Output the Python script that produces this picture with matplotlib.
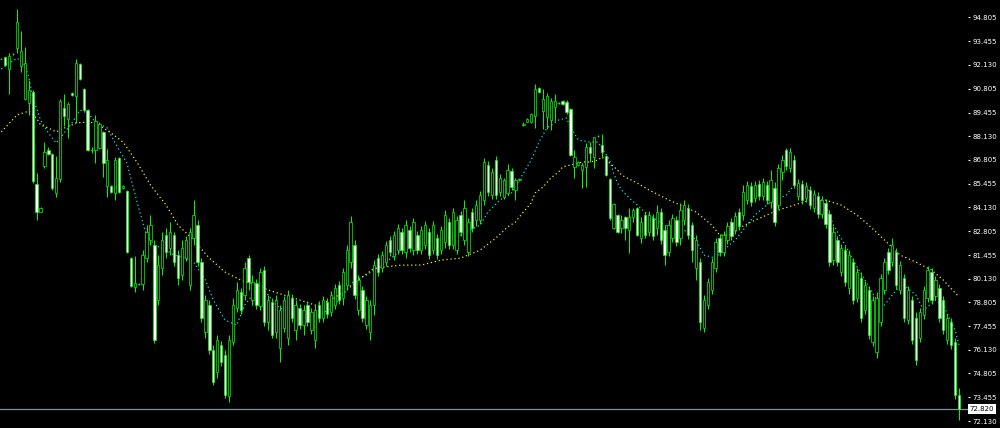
import matplotlib
matplotlib.use('Agg')
import matplotlib.pyplot as plt
from matplotlib.patches import Rectangle
from matplotlib.transforms import blended_transform_factory
import numpy as np

opens = [
    92.47, 92.58, 91.91, 92.72, 93.08, 92.07, 90.22, 89.99, 90.61, 85.44,
    83.90, 86.46, 87.35, 87.13, 84.94, 85.73, 89.71, 89.10, 90.56, 90.39,
    92.19, 90.78, 89.60, 87.35, 87.35, 87.47, 88.37, 85.33, 85.33, 84.94,
    86.91, 85.22, 85.05, 81.29, 79.66, 79.83, 79.83, 81.28, 82.30, 82.02,
    78.93, 80.72, 82.58, 81.85, 82.58, 81.45, 80.33, 81.28, 79.77, 82.41,
    83.14, 81.06, 77.13, 78.64, 76.12, 74.88, 76.40, 75.84, 73.53, 76.57,
    78.48, 79.38, 79.21, 81.28, 78.93, 79.88, 78.59, 80.61, 77.69, 78.81,
    77.13, 76.23, 77.35, 76.79, 79.04, 77.24, 78.48, 77.52, 78.64, 77.24,
    76.68, 78.64, 77.91, 78.81, 78.25, 78.64, 79.77, 79.04, 79.77, 81.06,
    82.02, 78.36, 79.49, 77.52, 77.13, 78.64, 81.28, 80.72, 81.06, 82.30,
    81.40, 81.73, 82.75, 81.62, 82.86, 81.73, 82.58, 81.73, 82.02, 82.75,
    81.73, 82.41, 81.73, 82.19, 83.31, 82.02, 81.73, 83.70, 82.30, 81.62,
    83.87, 83.42, 83.42, 84.54, 86.51, 84.82, 86.79, 85.00, 84.71, 84.94,
    86.17, 85.11, 85.67, 88.76, 88.93, 88.93, 89.26, 90.84, 89.54, 89.21,
    89.04, 89.77, 89.99, 90.11, 90.05, 89.66, 86.40, 86.51, 86.23, 86.40,
    87.52, 86.96, 88.14, 87.63, 87.02, 85.72, 82.97, 83.70, 82.97, 83.59,
    82.86, 83.59, 84.09, 82.41, 83.70, 82.75, 83.54, 82.97, 83.87, 82.86,
    81.62, 82.41, 83.42, 82.41, 83.42, 84.09, 83.14, 80.72, 81.06, 77.35,
    78.64, 79.49, 80.72, 82.41, 81.62, 82.30, 83.31, 82.86, 83.87, 83.70,
    84.54, 85.33, 84.66, 85.44, 84.77, 85.39, 84.43, 85.22, 84.26, 86.12,
    87.35, 86.34, 86.79, 84.77, 85.44, 84.66, 85.11, 84.09, 84.77, 83.76,
    84.37, 83.76, 81.17, 82.30, 80.50, 81.73, 79.60, 81.06, 79.04, 80.16,
    78.36, 79.49, 76.57, 76.01, 77.69, 79.49, 81.62, 81.06, 81.62, 79.49,
    80.16, 77.80, 78.93, 77.91, 76.79, 78.08, 79.04, 80.50, 79.15, 79.60,
    78.93, 76.68, 77.69, 76.57, 73.59]

highs = [
    92.50, 92.60, 92.80, 92.80, 95.28, 94.04, 93.14, 91.29, 90.70, 86.06,
    84.15, 87.80, 87.50, 87.20, 87.02, 90.22, 90.50, 90.05, 90.60, 92.47,
    92.25, 90.85, 89.65, 87.50, 89.32, 88.90, 88.40, 87.41, 85.40, 86.96,
    86.95, 85.40, 85.10, 81.35, 81.40, 79.90, 81.73, 83.14, 83.70, 82.30,
    81.45, 82.75, 82.97, 83.31, 82.75, 81.73, 82.30, 82.52, 82.97, 84.54,
    83.42, 81.28, 79.21, 78.93, 76.40, 76.96, 76.62, 76.12, 76.96, 79.04,
    79.94, 79.60, 81.06, 81.45, 80.33, 80.11, 80.72, 80.84, 79.21, 79.04,
    79.21, 78.64, 79.15, 79.49, 79.26, 78.93, 78.70, 78.64, 78.87, 78.48,
    78.64, 78.87, 79.15, 79.04, 79.43, 79.83, 80.00, 80.72, 82.02, 83.65,
    82.30, 80.33, 79.71, 79.15, 78.93, 81.17, 81.51, 81.68, 82.24, 82.52,
    82.80, 83.20, 82.97, 83.42, 83.08, 83.53, 82.80, 83.08, 83.37, 82.97,
    83.37, 82.63, 83.08, 83.98, 83.54, 84.09, 83.65, 83.93, 84.54, 83.54,
    84.09, 84.54, 85.05, 86.90, 86.73, 86.34, 87.02, 86.00, 85.78, 86.57,
    86.34, 85.78, 85.75, 88.90, 89.15, 89.45, 91.07, 90.90, 90.78, 90.56,
    90.27, 90.50, 90.05, 90.16, 90.16, 89.71, 87.35, 86.75, 86.62, 87.75,
    87.80, 88.08, 88.20, 88.25, 87.10, 85.80, 84.40, 83.78, 83.70, 83.65,
    84.09, 84.09, 84.15, 83.59, 83.87, 83.93, 83.76, 84.26, 84.09, 83.14,
    83.42, 83.76, 83.65, 84.37, 84.54, 84.32, 83.31, 82.58, 81.28, 79.21,
    80.16, 81.28, 82.41, 82.63, 82.80, 83.31, 83.54, 83.87, 84.09, 85.39,
    85.61, 85.55, 85.61, 85.67, 85.78, 85.61, 86.23, 85.55, 86.57, 87.07,
    87.47, 87.47, 87.07, 85.72, 85.67, 85.55, 85.33, 85.11, 85.00, 84.77,
    84.60, 83.98, 83.08, 82.52, 82.07, 81.96, 81.73, 81.28, 80.72, 80.50,
    80.00, 79.71, 79.15, 79.38, 80.39, 81.28, 81.85, 82.41, 81.85, 81.11,
    80.39, 79.71, 79.15, 78.25, 78.48, 79.71, 80.84, 80.72, 80.27, 79.83,
    79.15, 78.14, 77.91, 76.79, 73.98]

lows = [
    92.45, 92.10, 90.50, 92.70, 92.80, 91.74, 90.16, 89.32, 85.50, 83.42,
    83.85, 86.34, 87.05, 85.10, 84.71, 85.56, 88.70, 88.03, 90.40, 88.87,
    91.30, 89.55, 87.30, 87.20, 86.62, 87.40, 85.84, 84.71, 84.95, 84.55,
    84.95, 85.15, 81.55, 79.65, 79.38, 79.78, 79.49, 81.06, 82.02, 76.51,
    78.64, 80.33, 81.28, 81.45, 80.84, 79.77, 80.05, 81.11, 79.49, 82.02,
    80.84, 77.69, 76.79, 75.90, 74.15, 74.54, 75.22, 73.42, 73.20, 76.40,
    78.25, 78.14, 78.93, 79.49, 78.64, 78.42, 78.36, 77.47, 77.24, 76.79,
    76.79, 75.44, 77.13, 76.40, 77.69, 76.68, 77.30, 76.96, 77.47, 77.02,
    76.23, 77.69, 77.69, 77.91, 78.03, 78.42, 78.70, 78.64, 79.49, 80.72,
    78.98, 78.08, 77.69, 77.30, 76.68, 78.08, 80.27, 80.50, 80.84, 81.40,
    81.17, 81.51, 81.51, 81.28, 81.62, 81.45, 81.51, 81.51, 81.79, 81.23,
    81.51, 81.23, 81.51, 81.85, 81.79, 81.79, 81.51, 82.52, 82.02, 81.40,
    82.75, 83.08, 83.20, 84.26, 84.77, 84.60, 84.60, 84.77, 84.60, 84.82,
    85.11, 84.54, 85.62, 88.70, 88.90, 88.88, 88.59, 90.55, 88.53, 88.53,
    88.48, 88.98, 89.93, 89.88, 89.38, 87.00, 85.78, 86.45, 85.22, 85.27,
    86.68, 86.34, 88.08, 86.96, 85.88, 83.45, 82.90, 82.68, 82.69, 82.30,
    81.56, 83.31, 82.50, 82.13, 82.41, 82.52, 82.30, 82.58, 82.07, 80.89,
    81.40, 82.19, 81.96, 82.02, 83.14, 82.35, 81.06, 80.05, 77.24, 77.13,
    78.42, 79.26, 80.50, 81.40, 81.40, 82.07, 82.30, 82.63, 82.86, 83.42,
    84.32, 84.21, 84.43, 84.54, 84.54, 84.32, 84.09, 83.08, 84.04, 85.67,
    86.23, 86.12, 85.22, 84.54, 84.32, 84.43, 84.04, 83.87, 83.53, 83.53,
    82.97, 80.84, 80.89, 80.84, 80.27, 79.71, 79.26, 78.70, 78.81, 77.69,
    78.14, 76.74, 76.34, 75.67, 77.47, 79.26, 80.39, 80.84, 79.54, 79.26,
    77.69, 77.58, 76.46, 75.28, 76.57, 77.86, 78.81, 78.70, 78.93, 77.69,
    77.02, 76.46, 76.18, 73.36, 72.19]

closes = [
    92.47, 92.13, 92.64, 92.75, 94.55, 92.92, 92.24, 90.73, 85.61, 83.87,
    84.10, 87.24, 87.13, 85.22, 85.78, 90.11, 89.26, 89.94, 90.45, 92.24,
    91.34, 89.60, 87.35, 87.35, 88.98, 88.82, 86.62, 86.79, 85.00, 86.79,
    85.00, 85.33, 81.62, 79.71, 79.88, 79.83, 81.45, 82.75, 83.14, 76.68,
    80.89, 82.30, 81.62, 82.75, 81.06, 80.16, 81.85, 82.30, 82.75, 83.70,
    81.06, 77.91, 78.93, 76.12, 74.32, 76.68, 75.44, 73.59, 76.68, 78.64,
    79.49, 78.36, 80.72, 79.94, 79.94, 78.64, 80.50, 77.69, 78.93, 76.96,
    78.93, 78.36, 78.93, 79.21, 77.91, 78.64, 77.52, 78.36, 77.69, 78.25,
    78.36, 77.91, 78.93, 78.14, 79.21, 79.60, 78.93, 80.50, 81.73, 83.31,
    79.21, 80.05, 77.91, 78.93, 78.64, 80.89, 80.50, 81.45, 82.02, 81.62,
    82.58, 82.97, 81.73, 83.14, 81.85, 83.31, 81.73, 82.86, 83.14, 81.45,
    83.14, 81.45, 82.86, 83.70, 82.02, 83.87, 83.42, 82.75, 84.09, 83.31,
    82.97, 84.26, 84.82, 86.68, 85.00, 86.12, 84.82, 85.78, 85.67, 86.23,
    85.27, 85.67, 85.70, 88.82, 89.10, 89.38, 90.78, 90.61, 90.22, 90.39,
    90.11, 90.11, 89.99, 89.94, 89.49, 87.07, 86.96, 86.68, 86.51, 87.52,
    87.18, 88.08, 88.14, 87.24, 85.95, 83.53, 84.32, 82.75, 83.42, 82.97,
    83.59, 83.98, 82.58, 83.31, 82.58, 83.70, 82.52, 83.87, 82.30, 81.45,
    83.14, 83.54, 82.19, 83.98, 84.26, 82.58, 81.73, 82.30, 77.69, 78.93,
    79.94, 81.06, 82.19, 81.62, 82.58, 83.08, 82.52, 83.65, 83.08, 85.00,
    85.39, 84.43, 85.39, 84.77, 85.55, 84.54, 85.67, 83.31, 86.34, 86.79,
    86.46, 87.24, 85.39, 85.50, 84.54, 85.33, 84.26, 84.88, 83.76, 84.54,
    83.20, 81.06, 82.75, 81.06, 81.85, 79.94, 81.45, 78.93, 80.50, 77.91,
    79.77, 76.96, 78.93, 79.04, 80.16, 81.06, 80.61, 82.02, 79.77, 80.89,
    77.91, 79.49, 76.68, 75.56, 78.25, 79.49, 80.61, 78.93, 80.05, 77.91,
    77.24, 77.91, 76.40, 73.59, 72.82]

# moving averages (bar index, price)
fast_ma_bars = [0, 4, 6, 7, 8, 10, 12, 14, 16, 18, 20, 22, 24, 27, 29, 32, 35, 37, 39, 42,
                44, 47, 49, 52, 54, 57, 60, 62, 65, 67, 70, 72, 75, 77, 80, 82, 85, 87, 90, 93,
                95, 98, 102, 107, 112, 117, 122, 124, 127, 130, 132, 135, 137, 139, 142, 144, 145, 147, 150, 152,
                153, 155, 156, 157, 158, 160, 162, 164, 167, 169, 172, 174, 177, 179, 182, 184, 187, 190, 192, 195,
                197, 200, 202, 205, 207, 210, 212, 215, 217, 220, 223, 225, 228, 230, 233, 235, 238, 240, 243, 244]
fast_ma_values = [91.91, 92.52, 92.13, 91.45, 90.33, 89.04, 88.31, 87.75, 88.31, 88.87,
                  89.60, 89.43, 88.93, 88.59, 87.75, 86.62, 84.09, 82.58, 82.02, 81.73,
                  81.45, 81.28, 81.06, 80.05, 78.93, 77.80, 77.52, 78.64, 79.49, 79.49,
                  78.64, 78.36, 78.08, 77.91, 77.91, 78.19, 78.64, 79.21, 80.05, 80.33,
                  80.61, 81.06, 81.73, 82.13, 82.30, 82.58, 83.14, 83.87, 84.54, 84.94,
                  85.67, 86.79, 87.80, 88.59, 89.04, 89.15, 88.65, 87.92, 87.80, 87.80,
                  87.47, 86.79, 86.06, 85.50, 85.11, 84.66, 84.26, 83.87, 83.42, 83.14,
                  82.97, 82.86, 82.30, 81.45, 81.28, 81.73, 82.30, 83.14, 83.70, 84.26,
                  84.54, 84.82, 85.39, 85.22, 84.82, 84.26, 83.14, 82.02, 81.17, 80.05,
                  78.93, 78.64, 79.49, 79.77, 79.21, 78.36, 78.93, 78.64, 77.24, 76.40]
slow_ma_bars = [0, 4, 7, 9, 10, 12, 14, 16, 17, 19, 22, 24, 26, 28, 31, 33, 35, 38, 42, 45,
                49, 53, 57, 61, 65, 68, 72, 76, 80, 84, 88, 91, 95, 102, 107, 112, 117, 122, 126, 129,
                131, 133, 135, 136, 138, 140, 142, 143, 145, 147, 148, 150, 152, 153, 155, 157, 158, 160, 162, 165,
                169, 173, 177, 181, 183, 186, 188, 191, 195, 198, 202, 206, 210, 214, 218, 221, 225, 229, 233, 237,
                240, 244]
slow_ma_values = [88.37, 89.32, 89.54, 89.15, 88.76, 88.59, 88.37, 88.59, 88.65, 88.87,
                  88.93, 88.87, 88.59, 88.31, 87.80, 87.18, 86.51, 85.39, 84.26, 83.14,
                  82.30, 81.28, 80.50, 80.05, 79.77, 79.49, 79.21, 78.93, 78.64, 78.93,
                  79.49, 80.05, 80.72, 80.89, 80.89, 81.17, 81.28, 81.73, 82.41, 83.03,
                  83.31, 83.87, 84.38, 84.94, 85.27, 85.78, 86.12, 86.40, 86.51, 86.62,
                  86.68, 86.68, 86.79, 86.96, 86.62, 86.23, 85.95, 85.72, 85.50, 85.11,
                  84.66, 84.26, 83.87, 83.14, 82.58, 82.58, 82.97, 83.31, 83.70, 83.98,
                  84.26, 84.54, 84.54, 84.26, 83.70, 83.14, 82.30, 81.45, 81.06, 80.61,
                  80.05, 79.10]

tick_values = [94.805, 93.455, 92.130, 90.805, 89.455, 88.130, 86.805, 85.455, 84.130,
               82.805, 81.455, 80.130, 78.805, 77.455, 76.130, 74.805, 73.455, 72.130]
last_price = 72.820

Y_TOP, Y_BOTTOM = 95.78, 71.74
green = '#00ff00'

fig = plt.figure(figsize=(10, 4.28), dpi=100, facecolor='black')
ax = fig.add_axes([0, 0, 0.968, 1])
ax.set_facecolor('black')

for i, (o, h, l, c) in enumerate(zip(opens, highs, lows, closes)):
    ax.vlines(i, l, h, color=green, lw=0.7, zorder=3)
    lo, hi = min(o, c), max(o, c)
    face = 'black' if c >= o else 'white'
    ax.add_patch(Rectangle((i - 0.3, lo), 0.6, max(hi - lo, 0.012),
                           facecolor=face, edgecolor=green, lw=0.5, zorder=4))

ax.plot(fast_ma_bars, fast_ma_values, color='#00e0f0', lw=0.9, ls=(0, (1, 2.2)), zorder=2)
ax.plot(slow_ma_bars, slow_ma_values, color='#f0f000', lw=0.9, ls=(0, (1, 2.2)), zorder=2)

ax.axhline(last_price, color='#8090a0', lw=0.9, zorder=1)

ax.set_xlim(-0.33, 246.29)
ax.set_ylim(Y_BOTTOM, Y_TOP)
for s in ax.spines.values():
    s.set_visible(False)
ax.set_xticks([])
ax.yaxis.tick_right()
ax.set_yticks(tick_values)
ax.set_yticklabels([f'{v:.3f}' for v in tick_values])
ax.tick_params(axis='y', colors='white', labelsize=5, length=1.5, width=0.8, pad=2)
trans = blended_transform_factory(ax.transAxes, ax.transData)
ax.text(1.0015, last_price, f'{last_price:.3f}', transform=trans,
        ha='left', va='center', fontsize=5, color='black',
        bbox=dict(boxstyle='square,pad=0.25', fc='white', ec='none'), clip_on=False, zorder=10)

fig.savefig('out.png', dpi=100, facecolor='black')
